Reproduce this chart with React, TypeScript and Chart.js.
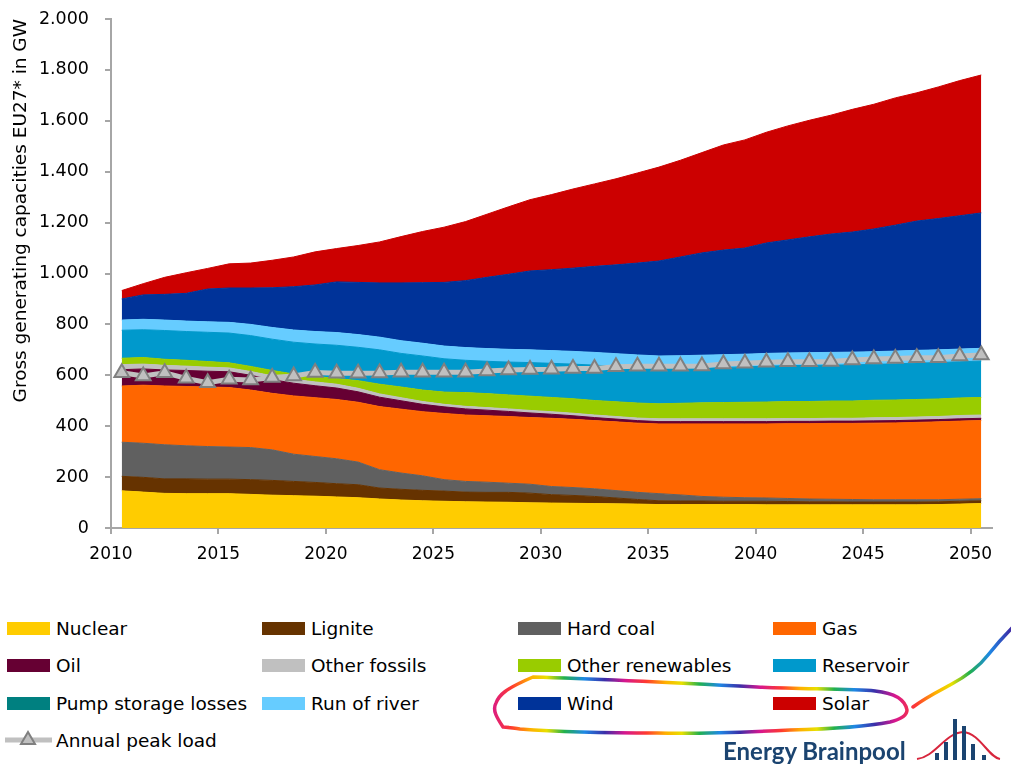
import React, { useEffect, useRef } from 'react';
import { Chart, registerables } from 'chart.js';
Chart.register(...registerables);

const years = [2010, 2011, 2012, 2013, 2014, 2015, 2016, 2017, 2018, 2019, 2020, 2021, 2022, 2023, 2024, 2025, 2026, 2027, 2028, 2029, 2030, 2031, 2032, 2033, 2034, 2035, 2036, 2037, 2038, 2039, 2040, 2041, 2042, 2043, 2044, 2045, 2046, 2047, 2048, 2049, 2050];

const nuclear = [146, 141, 136, 135, 135, 135, 132, 129, 127, 125, 122, 119, 114, 110, 107, 105, 103, 102, 101, 99, 98, 97, 96, 95, 94, 92, 92, 92, 92, 92, 91, 91, 91, 91, 91, 91, 91, 91, 92, 94, 96];
const lignite = [57, 58, 57, 58, 57, 57, 58, 58, 56, 54, 52, 51, 43, 42, 41, 40, 38, 38, 39, 38, 33, 31, 28, 23, 18, 15, 14, 14, 13, 13, 14, 13, 12, 12, 11, 11, 11, 11, 11, 11, 11];
const hardCoal = [134, 134, 134, 130, 128, 126, 126, 120, 107, 102, 98, 89, 72, 64, 57, 45, 42, 40, 36, 35, 32, 31, 30, 29, 28, 28, 24, 18, 16, 14, 13, 12, 11, 10, 10, 9, 9, 9, 8, 8, 8];
const gas = [221, 228, 231, 233, 234, 234, 226, 222, 229, 231, 233, 235, 248, 251, 252, 260, 261, 261, 262, 262, 268, 268, 268, 270, 272, 274, 279, 285, 288, 290, 291, 294, 296, 298, 299, 301, 302, 304, 306, 307, 307];
const oil = [64, 64, 63, 63, 62, 62, 58, 54, 50, 47, 45, 41, 37, 33, 29, 26, 24, 22, 20, 18, 16, 14, 12, 11, 10, 9, 9, 9, 9, 9, 9, 9, 9, 9, 9, 9, 9, 9, 9, 9, 9];
const otherFossils = [20, 19, 18, 17, 16, 15, 15, 15, 15, 15, 15, 14, 13, 12, 11, 10, 10, 10, 10, 10, 10, 10, 10, 10, 10, 11, 11, 11, 11, 11, 11, 11, 11, 11, 11, 12, 12, 12, 12, 13, 13];
const otherRenewables = [25, 26, 24, 23, 22, 20, 20, 21, 21, 22, 22, 30, 38, 42, 45, 48, 54, 55, 55, 56, 56, 57, 57, 58, 59, 59, 61, 63, 64, 65, 66, 67, 67, 68, 68, 69, 69, 69, 69, 69, 69];
const reservoir = [110, 109, 113, 113, 115, 117, 121, 123, 125, 127, 131, 131, 135, 132, 134, 131, 127, 127, 129, 132, 134, 136, 139, 139, 139, 138, 137, 137, 138, 139, 141, 141, 142, 141, 142, 141, 142, 143, 143, 142, 143];
const pumpStorageLosses = [0, 0, 0, 0, 0, 0, 0, 0, 0, 0, 0, 0, 0, 0, 0, 0, 0, 0, 0, 0, 0, 0, 0, 0, 0, 0, 0, 0, 0, 0, 0, 0, 0, 0, 0, 0, 0, 0, 0, 0, 0];
const runOfRiver = [40, 41, 41, 41, 41, 42, 44, 46, 48, 49, 50, 50, 50, 50, 50, 50, 50, 50, 50, 50, 50, 50, 50, 50, 50, 50, 50, 50, 50, 50, 50, 50, 50, 50, 50, 50, 50, 50, 50, 50, 50];
const wind = [83, 96, 101, 109, 129, 135, 143, 156, 170, 183, 199, 205, 213, 227, 238, 250, 263, 280, 295, 310, 318, 327, 338, 349, 361, 373, 388, 402, 411, 417, 434, 444, 455, 465, 472, 482, 495, 508, 516, 524, 532];
const solar = [33, 44, 67, 81, 81, 95, 98, 108, 117, 130, 131, 145, 161, 182, 201, 217, 232, 248, 265, 280, 295, 311, 324, 338, 354, 369, 380, 394, 413, 425, 435, 448, 458, 467, 482, 490, 500, 504, 517, 531, 542];
const peakLoad = [610, 597, 610, 588, 571, 584, 582, 591, 597, 611, 608, 608, 609, 612, 612, 612, 612, 617, 621, 623, 624, 627, 627, 634, 636, 636, 636, 637, 644, 647, 651, 653, 653, 654, 660, 664, 666, 669, 669, 676, 680];

const seriesNames = ['Nuclear', 'Lignite', 'Hard coal', 'Gas', 'Oil', 'Other fossils', 'Other renewables', 'Reservoir', 'Pump storage losses', 'Run of river', 'Wind', 'Solar'];
const seriesValues = [nuclear, lignite, hardCoal, gas, oil, otherFossils, otherRenewables, reservoir, pumpStorageLosses, runOfRiver, wind, solar];
const seriesColors = ['#FFCC00', '#663300', '#606060', '#FF6600', '#660033', '#C0C0C0', '#99CC00', '#0099CC', '#008080', '#66CCFF', '#003399', '#CC0000'];
const peakName = 'Annual peak load';
const yTitle = 'Gross generating capacities EU27* in GW';

const FONT = "'DejaVu Sans', sans-serif";

const fmt = (v: number) => {
  const s = String(Math.round(v));
  return s.length > 3 ? s.slice(0, -3) + '.' + s.slice(-3) : s;
};

export default function App() {
  const ref = useRef<HTMLCanvasElement>(null);

  useEffect(() => {
    const canvas = ref.current!;
    const pts = (vals: number[]) => years.map((y, k) => ({ x: y + 0.5, y: vals[k] }));
    const areaSets = seriesValues.map((vals, i) => ({
      type: 'line' as const,
      label: seriesNames[i],
      data: pts(vals),
      backgroundColor: seriesColors[i],
      borderColor: vals.every((v) => v === 0) ? 'rgba(0,0,0,0)' : seriesColors[i],
      borderWidth: 1,
      pointRadius: 0,
      pointHoverRadius: 0,
      fill: i === 0 ? 'origin' : '-1',
      stack: 'cap',
      order: 1,
      tension: 0,
    }));
    const peakSet = {
      type: 'line' as const,
      label: peakName,
      data: pts(peakLoad),
      borderColor: '#C0C0C0',
      borderWidth: 5,
      backgroundColor: '#C0C0C0',
      pointStyle: 'triangle',
      pointRadius: 8.5,
      pointBackgroundColor: '#C0C0C0',
      pointBorderColor: '#808080',
      pointBorderWidth: 2,
      fill: false,
      stack: 'peak',
      order: 0,
      tension: 0,
    };
    const axisGray = '#A6A6A6';
    const chart = new Chart(canvas, {
      type: 'line',
      data: { datasets: [...areaSets, peakSet] as any },
      options: {
        animation: false,
        responsive: false,
        devicePixelRatio: 1,
        layout: { padding: { left: 0, right: 19, top: 19, bottom: 0 } },
        plugins: { legend: { display: false }, tooltip: { enabled: false } },
        events: [],
        scales: {
          x: {
            type: 'linear',
            min: 2010,
            max: 2051,
            afterFit: (s: any) => { s.height = 52; },
            ticks: {
              stepSize: 5,
              includeBounds: false,
              color: '#000',
              font: { family: FONT, size: 17 },
              padding: 10,
              maxRotation: 0,
              callback: (v: any) => String(v),
            },
            grid: { display: true, drawOnChartArea: false, drawTicks: true, tickLength: 6, color: axisGray, lineWidth: 2 },
            border: { display: true, color: axisGray, width: 2 },
          },
          y: {
            type: 'linear',
            stacked: true,
            min: 0,
            max: 2000,
            afterFit: (s: any) => { s.width = 111; s.paddingTop = 8; s.paddingBottom = 8; },
            ticks: {
              stepSize: 200,
              color: '#000',
              font: { family: FONT, size: 17.5 },
              padding: 16,
              callback: (v: any) => fmt(Number(v)),
            },
            grid: { display: true, drawOnChartArea: false, drawTicks: true, tickLength: 6, color: axisGray, lineWidth: 2 },
            border: { display: true, color: axisGray, width: 2 },
            title: {
              display: true,
              text: yTitle,
              align: 'end',
              color: '#000',
              font: { family: FONT, size: 18.5 },
              padding: { top: 10, bottom: 0 },
            },
          },
        },
      } as any,
    });
    return () => chart.destroy();
  }, []);

  const cols = [7, 262, 518, 773];
  const rows = [628, 665, 703, 740];

  const legendItems = seriesNames.map((name, i) => {
    const r = Math.floor(i / 4);
    const c = i % 4;
    return (
      <div key={name} style={{ position: 'absolute', left: cols[c], top: rows[r] - 12, height: 24, display: 'flex', alignItems: 'center', whiteSpace: 'nowrap' }}>
        <div style={{ width: 43, height: 13, background: seriesColors[i], marginRight: 6 }} />
        <span style={{ fontFamily: FONT, fontSize: 18.5, color: '#000' }}>{name}</span>
      </div>
    );
  });

  return (
    <div style={{ position: 'absolute', left: 0, top: 0, width: 1011, height: 769, background: '#fff', overflow: 'hidden' }}>
      <canvas ref={ref} width={1011} height={580} style={{ position: 'absolute', left: 0, top: 0, width: 1011, height: 580 }} />
      {legendItems}
      <div style={{ position: 'absolute', left: 3, top: rows[3] - 12, height: 24, display: 'flex', alignItems: 'center', whiteSpace: 'nowrap' }}>
        <svg width={50} height={24} style={{ marginRight: 3 }}>
          <line x1={2} y1={12} x2={49} y2={12} stroke="#C0C0C0" strokeWidth={5} />
          <polygon points="25,4 32,16 18,16" fill="#C0C0C0" stroke="#808080" strokeWidth={2} />
        </svg>
        <span style={{ fontFamily: FONT, fontSize: 18.5, color: '#000' }}>{peakName}</span>
      </div>
      <svg width={1011} height={769} style={{ position: 'absolute', left: 0, top: 0, pointerEvents: 'none' }}>
        <defs>
          <linearGradient id="rb" gradientUnits="userSpaceOnUse" x1={490} y1={0} x2={625} y2={0} spreadMethod="repeat">
            <stop offset="0" stopColor="#d6168f" />
            <stop offset="0.16" stopColor="#ff3b2f" />
            <stop offset="0.3" stopColor="#ffb000" />
            <stop offset="0.42" stopColor="#e8e000" />
            <stop offset="0.55" stopColor="#22b14c" />
            <stop offset="0.7" stopColor="#1e88e5" />
            <stop offset="0.85" stopColor="#3b2fa8" />
            <stop offset="1" stopColor="#d6168f" />
          </linearGradient>
        </defs>
        <path
          d="M503,727 C497,718 492,710 496,703 C499,695 505,689 533,677 C600,679 700,684 757,687 C800,689 850,689 875,691 C895,693 905,700 907,710 C907,716 898,720 890,722 C870,726 830,729 790,730 C730,733 690,734 657,733 C610,733 560,732 520,729 C512,728 507,727 503,727"
          fill="none"
          stroke="url(#rb)"
          strokeWidth={3.5}
          strokeLinecap="round"
          strokeLinejoin="round"
        />
        <path
          d="M913,707 C925,698 935,693 950,685 C965,677 978,668 988,655 C996,645 1003,637 1012,628"
          fill="none"
          stroke="url(#rb)"
          strokeWidth={3.5}
          strokeLinecap="round"
        />
        <text x={723} y={760} fill="#1B4470" style={{ fontFamily: "'Lato', sans-serif", fontWeight: 700, fontSize: 24 }}>Energy Brainpool</text>
        <path d="M917,759 C935,757 945,733 963,732 C980,733 988,757 1000,759" fill="none" stroke="#D7263D" strokeWidth={2} />
        <rect x={935} y={753} width={4} height={7} fill="#1B4470" />
        <rect x={944} y={742} width={4} height={18} fill="#1B4470" />
        <rect x={953} y={719} width={4} height={41} fill="#1B4470" />
        <rect x={962} y={726} width={4} height={34} fill="#1B4470" />
        <rect x={971} y={744} width={4} height={16} fill="#1B4470" />
        <rect x={982} y={755} width={4} height={5} fill="#1B4470" />
      </svg>
    </div>
  );
}
